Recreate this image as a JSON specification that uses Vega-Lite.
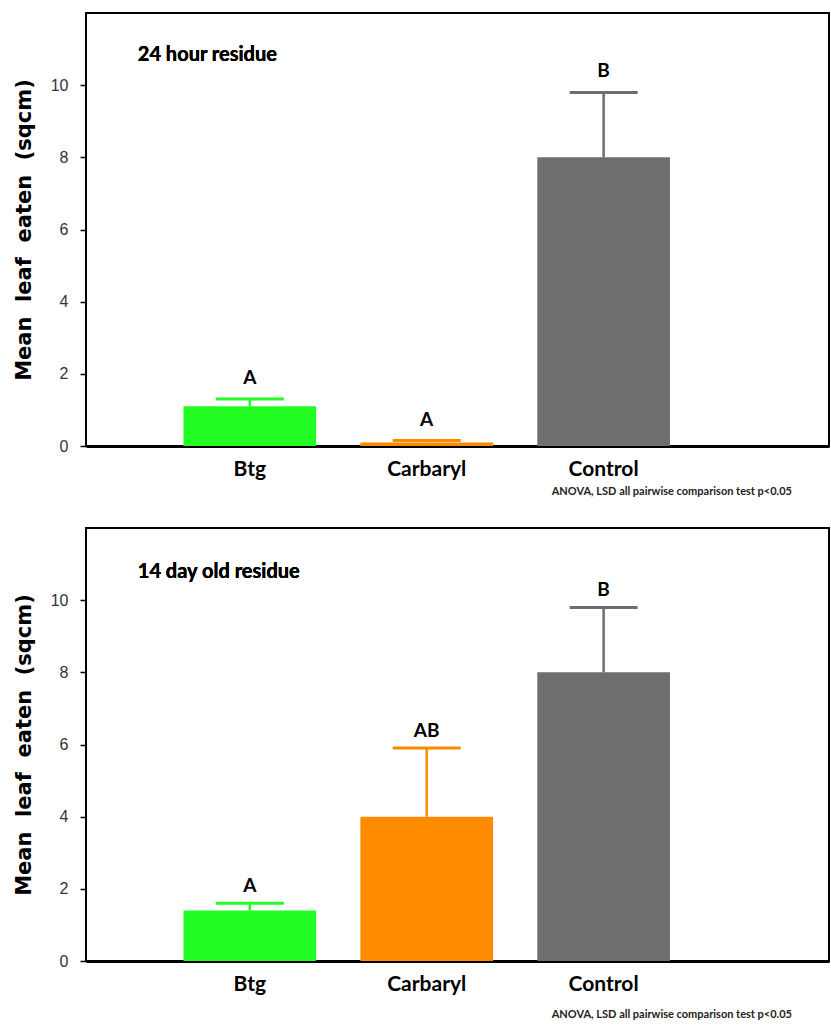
{
  "$schema": "https://vega.github.io/schema/vega-lite/v6.json",
  "background": "white",
  "padding": {"left": 12, "top": 12, "right": 2, "bottom": 2},
  "spacing": 29,
  "config": {
    "view": {"stroke": "black", "strokeWidth": 2},
    "font": "Lato",
    "axisX": {
      "title": null, "labelAngle": 0, "labelFont": "Lato", "labelFontSize": 21, "labelFontWeight": "bold",
      "labelColor": "black", "ticks": false, "domain": true, "domainColor": "black", "domainWidth": 3,
      "labelPadding": 12, "grid": false
    },
    "axisY": {
      "titleFont": "DejaVu Sans", "titleFontSize": 21, "titleFontWeight": "bold", "titleColor": "black",
      "titlePadding": 16, "labelFont": "Liberation Sans", "labelFontSize": 16, "labelColor": "#333333",
      "tickSize": 6, "tickColor": "black", "tickWidth": 1.5, "labelPadding": 12, "grid": false, "domain": false
    },
    "title": {"fontSize": 11, "fontWeight": "bold", "font": "Lato", "color": "#222222"}
  },
  "datasets": {
    "bars": [
      {"panel": "24h", "treatment": "Btg", "mean": 1.1, "upper": 1.3, "letter": "A"},
      {"panel": "24h", "treatment": "Carbaryl", "mean": 0.1, "upper": 0.15, "letter": "A"},
      {"panel": "24h", "treatment": "Control", "mean": 8.0, "upper": 9.8, "letter": "B"},
      {"panel": "14d", "treatment": "Btg", "mean": 1.4, "upper": 1.6, "letter": "A"},
      {"panel": "14d", "treatment": "Carbaryl", "mean": 4.0, "upper": 5.9, "letter": "AB"},
      {"panel": "14d", "treatment": "Control", "mean": 8.0, "upper": 9.8, "letter": "B"}
    ]
  },
  "vconcat": [
    {
      "width": 743, "height": 433,
      "title": {"text": "ANOVA, LSD all pairwise comparison test p<0.05", "orient": "bottom", "anchor": "end", "dx": -37, "offset": 7},
      "data": {"name": "bars"},
      "transform": [{"filter": "datum.panel == '24h'"}],
      "encoding": {
        "x": {"field": "treatment", "type": "nominal", "sort": ["Btg", "Carbaryl", "Control"],
              "scale": {"paddingInner": 0.25, "paddingOuter": 0.725, "align": 0.38}},
        "color": {"field": "treatment", "type": "nominal", "legend": null,
                  "scale": {"domain": ["Btg", "Carbaryl", "Control"], "range": ["#22fc22", "#ff8a00", "#6e6e6e"]}}
      },
      "layer": [
        {"mark": {"type": "bar"},
         "encoding": {"y": {"field": "mean", "type": "quantitative", "scale": {"domain": [0, 12], "nice": false},
                            "axis": {"values": [0, 2, 4, 6, 8, 10]},
                            "title": "Mean\u00a0 leaf\u00a0 eaten\u00a0 (sqcm)"}}},
        {"mark": {"type": "rule", "strokeWidth": 2.5},
         "encoding": {"y": {"field": "mean", "type": "quantitative"}, "y2": {"field": "upper"}}},
        {"mark": {"type": "tick", "size": 68, "thickness": 3, "opacity": 1},
         "encoding": {"y": {"field": "upper", "type": "quantitative"}}},
        {"mark": {"type": "text", "fontSize": 19, "fontWeight": "bold", "baseline": "bottom", "dy": -11, "color": "black"},
         "encoding": {"y": {"field": "upper", "type": "quantitative"}, "text": {"field": "letter"}, "color": {"value": "black"}}},
        {"mark": {"type": "text", "fontSize": 20, "fontWeight": "bold", "align": "left", "baseline": "middle", "dx": -112, "color": "black"},
         "encoding": {"x": {"datum": "Btg"}, "y": {"datum": 10.83}, "text": {"value": "24 hour residue"}, "color": {"value": "black"}}}
      ]
    },
    {
      "width": 743, "height": 433,
      "title": {"text": "ANOVA, LSD all pairwise comparison test p<0.05", "orient": "bottom", "anchor": "end", "dx": -37, "offset": 15},
      "data": {"name": "bars"},
      "transform": [{"filter": "datum.panel == '14d'"}],
      "encoding": {
        "x": {"field": "treatment", "type": "nominal", "sort": ["Btg", "Carbaryl", "Control"],
              "scale": {"paddingInner": 0.25, "paddingOuter": 0.725, "align": 0.38}},
        "color": {"field": "treatment", "type": "nominal", "legend": null,
                  "scale": {"domain": ["Btg", "Carbaryl", "Control"], "range": ["#22fc22", "#ff8a00", "#6e6e6e"]}}
      },
      "layer": [
        {"mark": {"type": "bar"},
         "encoding": {"y": {"field": "mean", "type": "quantitative", "scale": {"domain": [0, 12], "nice": false},
                            "axis": {"values": [0, 2, 4, 6, 8, 10]},
                            "title": "Mean\u00a0 leaf\u00a0 eaten\u00a0 (sqcm)"}}},
        {"mark": {"type": "rule", "strokeWidth": 2.5},
         "encoding": {"y": {"field": "mean", "type": "quantitative"}, "y2": {"field": "upper"}}},
        {"mark": {"type": "tick", "size": 68, "thickness": 3, "opacity": 1},
         "encoding": {"y": {"field": "upper", "type": "quantitative"}}},
        {"mark": {"type": "text", "fontSize": 19, "fontWeight": "bold", "baseline": "bottom", "dy": -7, "color": "black"},
         "encoding": {"y": {"field": "upper", "type": "quantitative"}, "text": {"field": "letter"}, "color": {"value": "black"}}},
        {"mark": {"type": "text", "fontSize": 20, "fontWeight": "bold", "align": "left", "baseline": "middle", "dx": -112, "color": "black"},
         "encoding": {"x": {"datum": "Btg"}, "y": {"datum": 10.77}, "text": {"value": "14 day old residue"}, "color": {"value": "black"}}}
      ]
    }
  ]
}
